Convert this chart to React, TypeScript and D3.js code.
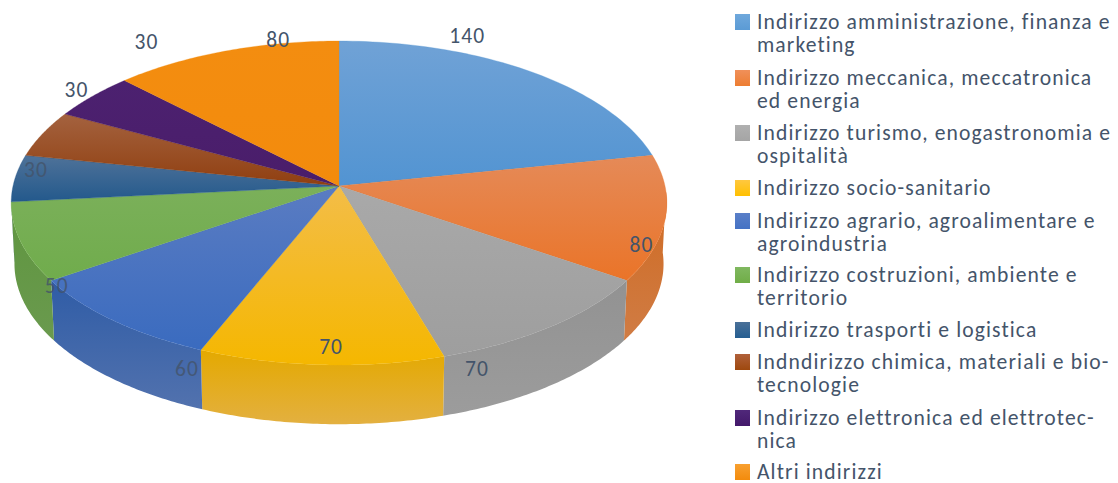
import React from "react";
import * as d3 from "d3";

const categories = [
  "Indirizzo amministrazione, finanza e\nmarketing",
  "Indirizzo meccanica, meccatronica\ned energia",
  "Indirizzo turismo, enogastronomia e\nospitalità",
  "Indirizzo socio-sanitario",
  "Indirizzo agrario, agroalimentare e\nagroindustria",
  "Indirizzo costruzioni, ambiente e\nterritorio",
  "Indirizzo trasporti e logistica",
  "Indndirizzo chimica, materiali e bio-\ntecnologie",
  "Indirizzo elettronica ed elettrotec-\nnica",
  "Altri indirizzi",
];
const values = [140, 80, 70, 70, 60, 50, 30, 30, 30, 80];
const topLight = ["#70a2d6", "#e58a58", "#a9a9a9", "#f3bd48", "#5a7cc2", "#7bb05a", "#4f7299", "#a4623f", "#4c2170", "#f38d10"];
const topDark = ["#5294d2", "#ea7428", "#9e9e9e", "#f5b700", "#3a6bbf", "#70ac4c", "#23598c", "#903f10", "#4a1d6a", "#f38b0c"];
const sideTop = ["#4a84bc", "#cf6a22", "#929292", "#e4a900", "#2f5ca6", "#5f953f", "#1f4e79", "#7f3a10", "#3d1858", "#d97c0a"];
const sideBottom = ["#6a9ccc", "#d07c44", "#9c9c9c", "#e3b040", "#5272ae", "#6a9a4e", "#3c6488", "#8e5230", "#4a2a68", "#dd9030"];
const legendLight = ["#6fa8dc", "#f0905a", "#b0b0b0", "#ffc840", "#5a7fc8", "#80b860", "#4a7098", "#b0603a", "#50287a", "#f8a030"];
const legendDark = ["#5b9bd5", "#ed7d31", "#a5a5a5", "#ffc000", "#4472c4", "#70ad47", "#255e91", "#9e480e", "#43186a", "#f38b0c"];
const labelOffsets = [[-63, -35], [-24, 27], [-74, 42], [10, -18], [73, 48], [36, 44], [21, -8], [34, -44], [54, -54], [53, -11]];
const legendRows = [22, 78, 133, 188, 221, 275, 330, 362, 418, 472];

const W = 1118, H = 483;
const CX = 339, CY = 186, A = 326, B = 160.2, K = 0.105;
const DEPTH = 60, SHRINK = 0.99;
const TEXT = "#44546a";
const FONT = "Carlito, Lato, sans-serif";

function project(angle: number, r = 1): [number, number] {
  const u = r * Math.sin(angle), v = r * Math.cos(angle);
  const d = 1 + K * v;
  return [CX + (A * u) / d, CY - (B * v) / d];
}
function projectBottom(angle: number): [number, number] {
  const [x, y] = project(angle);
  return [CX + (x - CX) * SHRINK, CY + (y - CY) * SHRINK + DEPTH + 1];
}
const rad = (deg: number) => (deg * Math.PI) / 180;
const SIDE_FROM = rad(92), SIDE_TO = rad(265);

export default function App() {
  const arcs = d3.pie<number>().sort(null).startAngle(0).endAngle(2 * Math.PI)(values);
  const line = d3.line();
  const samples = (a0: number, a1: number) => d3.range(0, 61).map((i) => a0 + ((a1 - a0) * i) / 60);

  return (
    <svg width={W} height={H} style={{ position: "absolute", left: 0, top: 0 }} fontFamily={FONT}>
      <defs>
        {values.map((_, i) => (
          <React.Fragment key={i}>
            <linearGradient id={`top${i}`} x1="0" y1="0" x2="0" y2="1">
              <stop offset="0" stopColor={topLight[i]} />
              <stop offset="1" stopColor={topDark[i]} />
            </linearGradient>
            <linearGradient id={`side${i}`} x1="0" y1="0" x2="0" y2="1">
              <stop offset="0" stopColor={sideTop[i]} />
              <stop offset="1" stopColor={sideBottom[i]} />
            </linearGradient>
            <linearGradient id={`leg${i}`} x1="0" y1="0" x2="0" y2="1">
              <stop offset="0" stopColor={legendLight[i]} />
              <stop offset="1" stopColor={legendDark[i]} />
            </linearGradient>
          </React.Fragment>
        ))}
      </defs>
      {arcs.map((a, i) => {
        const a0 = Math.max(a.startAngle, SIDE_FROM);
        const a1 = Math.min(a.endAngle, SIDE_TO);
        if (a1 <= a0) return null;
        const s = samples(a0, a1);
        const pts = [...s.map((t) => project(t)), ...s.slice().reverse().map(projectBottom)];
        return <path key={i} d={line(pts) + "Z"} fill={`url(#side${i})`} />;
      })}
      {arcs.map((a, i) => {
        const pts: [number, number][] = [[CX, CY], ...samples(a.startAngle, a.endAngle).map((t) => project(t))];
        return <path key={i} d={line(pts) + "Z"} fill={`url(#top${i})`} stroke={topDark[i]} strokeWidth={0.3} />;
      })}
      {arcs.map((a, i) => {
        const [x, y] = project((a.startAngle + a.endAngle) / 2);
        return (
          <text key={i} x={x + labelOffsets[i][0]} y={y + labelOffsets[i][1]} textAnchor="middle" dominantBaseline="central"
            fontSize={21.5} letterSpacing={1.1} fill={TEXT} opacity={i === 5 || i === 6 || i === 4 ? 0.8 : 1}>
            {values[i]}
          </text>
        );
      })}
      {categories.map((c, i) => (
        <g key={i}>
          <rect x={735} y={legendRows[i] - 8} width={15} height={16} fill={`url(#leg${i})`} />
          {c.split("\n").map((l, j) => (
            <text key={j} x={757} y={legendRows[i] + 6.5 + j * 23} fontSize={21.6} letterSpacing={1.12} fill={TEXT}>{l}</text>
          ))}
        </g>
      ))}
    </svg>
  );
}
